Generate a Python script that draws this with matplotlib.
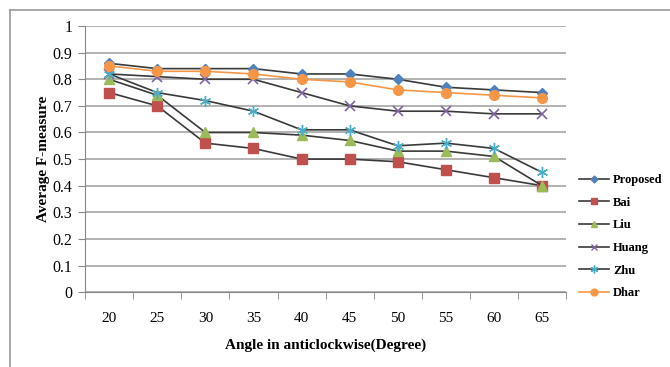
import matplotlib
matplotlib.use("Agg")
import matplotlib.pyplot as plt
from matplotlib.lines import Line2D

plt.rcParams['font.family'] = ['Liberation Serif', 'DejaVu Serif']

angles = [20, 25, 30, 35, 40, 45, 50, 55, 60, 65]
proposed = [0.86, 0.84, 0.84, 0.84, 0.82, 0.82, 0.80, 0.77, 0.76, 0.75]
bai = [0.75, 0.70, 0.56, 0.54, 0.50, 0.50, 0.49, 0.46, 0.43, 0.40]
liu = [0.80, 0.74, 0.60, 0.60, 0.59, 0.57, 0.53, 0.53, 0.51, 0.40]
huang = [0.82, 0.81, 0.80, 0.80, 0.75, 0.70, 0.68, 0.68, 0.67, 0.67]
zhu = [0.82, 0.75, 0.72, 0.68, 0.61, 0.61, 0.55, 0.56, 0.54, 0.45]
dhar = [0.85, 0.83, 0.83, 0.82, 0.80, 0.79, 0.76, 0.75, 0.74, 0.73]

fig = plt.figure(figsize=(6.7, 3.67), dpi=100)
ax = fig.add_axes([0.127, 0.204, 0.718, 0.725])

x = list(range(len(angles)))
line_col = '#3a3a3a'
ax.plot(x, proposed, color=line_col, lw=1.2, marker='D', ms=5, mfc='#4f81bd', mec='#4f81bd', label='Proposed', zorder=3)
ax.plot(x, bai, color=line_col, lw=1.2, marker='s', ms=7, mfc='#c0504d', mec='#c0504d', label='Bai', zorder=3)
ax.plot(x, liu, color=line_col, lw=1.2, marker='^', ms=7, mfc='#9bbb59', mec='#9bbb59', label='Liu', zorder=3)
ax.plot(x, huang, color=line_col, lw=1.2, marker='x', ms=7, mew=1.2, mfc='#8064a2', mec='#8064a2', label='Huang', zorder=3)
ax.plot(x, zhu, color=line_col, lw=1.2, marker=(6, 2, 0), ms=8, mew=1.0, mec='#4bacc6', label='Zhu', zorder=3)
ax.plot(x, dhar, color='#f79646', lw=1.2, marker='o', ms=7, mfc='#f79646', mec='#f79646', label='Dhar', zorder=4)

ax.set_xlim(-0.5, len(angles) - 0.5)
ax.set_ylim(0, 1)
ax.set_yticks([i / 10 for i in range(11)])
ax.set_yticklabels(['0', '0.1', '0.2', '0.3', '0.4', '0.5', '0.6', '0.7', '0.8', '0.9', '1'])
ax.set_xticks(x)
ax.set_xticklabels([str(a) for a in angles])
ax.set_xticks([i - 0.5 for i in range(len(angles) + 1)], minor=True)
ax.tick_params(axis='x', which='major', length=0, pad=14, labelsize=11)
ax.tick_params(axis='x', which='minor', length=5, color='#888888')
ax.tick_params(axis='y', length=5, color='#888888', labelsize=11.5, pad=4)
ax.grid(axis='y', color='#a6a6a6', lw=1.2)
ax.set_axisbelow(True)
for s in ['top', 'right']:
    ax.spines[s].set_visible(False)
ax.spines['left'].set_color('#888888')
ax.spines['bottom'].set_color('#888888')

ax.set_xlabel('Angle in anticlockwise(Degree)', fontsize=11, fontweight='bold', labelpad=10)
ax.set_ylabel('Average F-measure', fontsize=11, fontweight='bold', labelpad=2)

handles, labels = ax.get_legend_handles_labels()
small = []
for h in handles:
    small.append(Line2D([], [], color=h.get_color(), lw=1.2, marker=h.get_marker(),
                        ms=h.get_markersize() * 0.7, mfc=h.get_markerfacecolor(),
                        mec=h.get_markeredgecolor()))
fig.legend(small, labels, loc='center left', bbox_to_anchor=(0.848, 0.355),
           frameon=False, prop={'weight': 'bold', 'size': 9}, handlelength=2.4,
           labelspacing=0.85, handletextpad=0.3)

fig.add_artist(Line2D([0.015, 0.015], [0.0, 0.973], color='#999999', lw=1.2))
fig.add_artist(Line2D([0.015, 1.0], [0.973, 0.973], color='#999999', lw=1.2))

fig.savefig('out.png', dpi=100)
